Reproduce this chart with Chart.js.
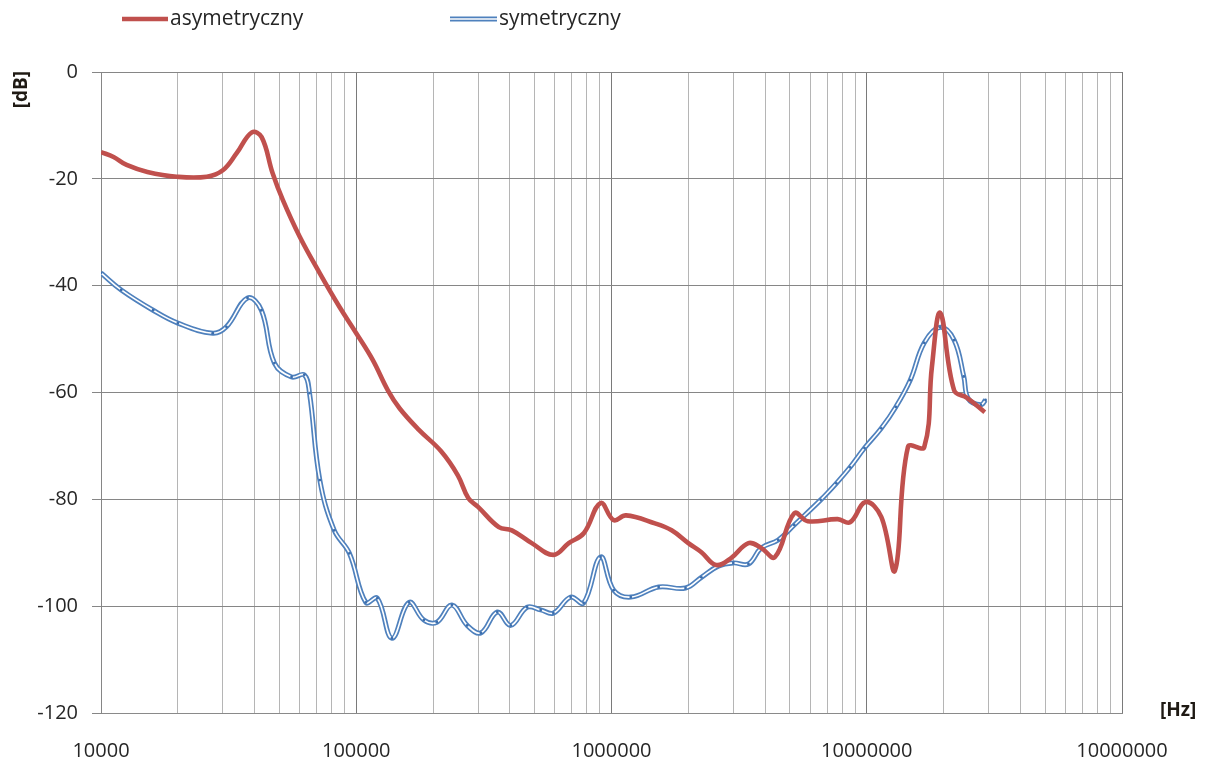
<!DOCTYPE html>
<html>
<head>
<meta charset="utf-8">
<script src="https://cdn.jsdelivr.net/npm/chart.js@4"></script>
<style>
  html, body { margin: 0; padding: 0; background: #fff; }
  #wrap { width: 1207px; height: 766px; position: relative; }
</style>
</head>
<body>
<div id="wrap"><canvas id="freqChart"></canvas></div>
<script>
// series names
const seriesNames = ['asymetryczny', 'symetryczny'];

// asymetryczny: frequency [Hz] and level [dB]
const freqAsym = [10000, 11200, 12600, 15200, 19800, 26000, 30000, 34000, 39000, 42600,
  47000, 51600, 60000, 72000, 86000, 100000, 116000, 133000, 148000, 176000,
  215000, 250000, 275000, 300000, 362000, 407000, 487000, 592000, 680000, 780000, 906000,
  1020000, 1140000, 1480000, 1720000, 2000000, 2250000, 2570000, 2940000, 3440000, 3860000,
  4370000, 5200000, 5870000, 7700000, 8600000, 9900000, 11400000, 12900000, 14500000, 16800000,
  18000000, 19400000, 22000000, 24700000, 29000000];
const dbAsym = [-15, -15.9, -17.4, -18.7, -19.6, -19.6, -18.4, -15.2, -11.3, -12.2,
  -18.9, -24, -30.8, -37.7, -44, -48.9, -53.9, -59.6, -63, -67,
  -71, -75.5, -79.8, -81.4, -85.2, -85.8, -88.2, -90.4, -88.2, -86.3, -80.7,
  -83.9, -83, -84.5, -85.8, -88.2, -89.9, -92.3, -91, -88.2, -89.1,
  -90.8, -82.6, -84.1, -83.7, -84.3, -80.5, -83.3, -93.3, -70.2, -70.2,
  -55.2, -45.1, -59.6, -61, -63.7];

// symetryczny: frequency [Hz] and level [dB]
const freqSym = [10000, 12000, 16000, 20000, 27400, 31000, 37500, 42500, 47800, 55800,
  62600, 65600, 72000, 82000, 94000, 109000, 121000, 138000, 161000, 184000,
  207000, 237000, 272000, 308000, 357000, 403000, 467000, 528000, 592000, 692000,
  778000, 906000, 1020000, 1190000, 1530000, 1950000, 2250000, 2620000, 3000000, 3440000,
  3860000, 4500000, 5200000, 6600000, 7600000, 8600000, 9800000, 11400000, 13000000, 14800000,
  16800000, 19400000, 22000000, 24000000, 25000000, 28000000, 29200000];
const dbSym = [-37.6, -40.8, -44.6, -47, -48.9, -47.7, -42.3, -44.6, -54.5, -57.1,
  -56.7, -60.1, -76.4, -85.8, -90.1, -99.3, -98.5, -106, -99.3, -102.6,
  -103, -99.8, -103.6, -105, -101.1, -103.6, -100.2, -100.7, -101.3, -98.3,
  -99.4, -90.8, -97, -98.3, -96.4, -96.6, -94.6, -92.5, -91.9, -92.1,
  -89.1, -87.6, -84.8, -80.1, -77, -74, -70.4, -66.7, -62.7, -57.7,
  -50.7, -47.8, -50.2, -57, -61.2, -62.3, -61.4];

// axis ticks
const decadeValues = [10000, 100000, 1000000, 10000000, 100000000];
const decadeLabels = ['10000', '100000', '1000000', '10000000', '10000000'];
const yMin = -120, yMax = 0, yStep = 20;

const RED = '#C0504D';
const BLUE = '#4F81BD';
const tickFont = { family: 'Open Sans', size: 20 };

// vertical grid at 1..9 x 10^n
const gridFreqs = [];
for (let d = 0; d < decadeValues.length - 1; d++) {
  for (let m = 1; m < 10; m++) gridFreqs.push(decadeValues[d] * m);
}
gridFreqs.push(decadeValues[decadeValues.length - 1]);

const isDecade = v => decadeValues.includes(v);
const toPoints = (xs, ys) => xs.map((x, i) => ({ x: x, y: ys[i] }));

// legend + axis unit labels
const extras = {
  id: 'extras',
  afterDraw(chart) {
    const ctx = chart.ctx;
    ctx.save();
    ctx.textBaseline = 'middle';
    ctx.font = '21px "Open Sans"';
    ctx.fillStyle = '#262626';

    // red legend entry
    ctx.strokeStyle = RED;
    ctx.lineWidth = 4.5;
    ctx.beginPath(); ctx.moveTo(122, 19); ctx.lineTo(168, 19); ctx.stroke();
    ctx.fillText(seriesNames[0], 170, 19);

    // blue legend entry (double line)
    ctx.strokeStyle = BLUE;
    ctx.lineWidth = 5;
    ctx.beginPath(); ctx.moveTo(450, 19); ctx.lineTo(497, 19); ctx.stroke();
    ctx.strokeStyle = '#fff';
    ctx.lineWidth = 1.6;
    ctx.beginPath(); ctx.moveTo(450, 19); ctx.lineTo(497, 19); ctx.stroke();
    ctx.fillText(seriesNames[1], 499, 19);

    // unit labels
    ctx.font = 'bold 19px "Open Sans"';
    ctx.fillStyle = '#1f1a14';
    ctx.textAlign = 'left';
    ctx.fillText('[Hz]', 1160, 711);
    ctx.translate(22, 71);
    ctx.rotate(-Math.PI / 2);
    ctx.textAlign = 'right';
    ctx.fillText('[dB]', 0, 0);
    ctx.restore();
  }
};

const ctx = document.getElementById('freqChart').getContext('2d');
new Chart(ctx, {
  type: 'scatter',
  data: {
    datasets: [
      {
        label: seriesNames[0],
        data: toPoints(freqAsym, dbAsym),
        showLine: true,
        borderColor: RED,
        borderWidth: 4.6,
        pointRadius: 0,
        tension: 0.4,
        order: 0
      },
      {
        label: seriesNames[1] + ' inner',
        data: toPoints(freqSym, dbSym),
        showLine: true,
        borderColor: '#ffffff',
        borderWidth: 1.6,
        pointRadius: 1.4,
        pointBorderWidth: 0,
        pointBackgroundColor: '#3d6fae',
        tension: 0.4,
        order: 1
      },
      {
        label: seriesNames[1],
        data: toPoints(freqSym, dbSym),
        showLine: true,
        borderColor: BLUE,
        borderWidth: 5,
        pointRadius: 0,
        tension: 0.4,
        order: 2
      }
    ]
  },
  options: {
    responsive: true,
    maintainAspectRatio: false,
    animation: false,
    layout: { padding: { top: 72, right: 85, bottom: 0, left: 0 } },
    plugins: { legend: { display: false }, tooltip: { enabled: false } },
    scales: {
      x: {
        type: 'logarithmic',
        min: decadeValues[0],
        max: decadeValues[decadeValues.length - 1],
        afterBuildTicks: s => { s.ticks = gridFreqs.map(v => ({ value: v, major: isDecade(v) })); },
        afterFit: s => { s.height = 53; },
        grid: {
          color: c => (c.tick && isDecade(c.tick.value)) ? '#7a7a7a' : '#b5b5b5',
          lineWidth: 1,
          drawTicks: false
        },
        border: { color: '#8a8a8a' },
        ticks: {
          autoSkip: false,
          maxRotation: 0,
          padding: 26,
          font: tickFont,
          color: '#262626',
          callback: v => {
            const i = decadeValues.indexOf(v);
            return i >= 0 ? decadeLabels[i] : '';
          }
        }
      },
      y: {
        min: yMin,
        max: yMax,
        afterFit: s => { s.width = 101; },
        grid: { color: '#868686', lineWidth: 1, tickLength: 9 },
        border: { color: '#868686' },
        ticks: { stepSize: yStep, padding: 14, font: tickFont, color: '#262626' }
      }
    }
  },
  plugins: [extras]
});
</script>
</body>
</html>
